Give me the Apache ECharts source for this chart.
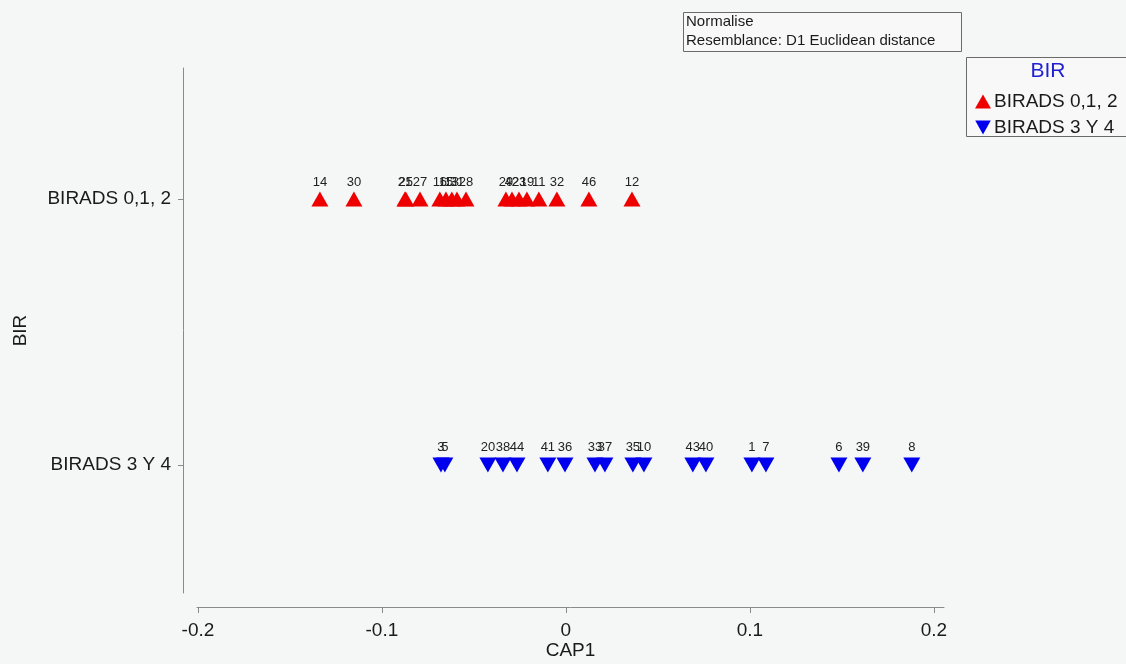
<!DOCTYPE html>
<html>
<head>
<meta charset="utf-8">
<script src="https://cdn.jsdelivr.net/npm/echarts@6/dist/echarts.min.js"></script>
<style>
html,body{margin:0;padding:0;background:#f5f6f6;}
#c{width:1126px;height:664px;}
</style>
</head>
<body>
<div id="c"></div>
<script>
// Categories (y axis, bottom to top)
const categories = ['BIRADS 3 Y 4', 'BIRADS 0,1, 2'];
const xTicks = [-0.2, -0.1, 0, 0.1, 0.2];

// BIRADS 0,1, 2 samples: labels and CAP1 values
const redLabels = ['14','30','21','25','27','16','15','13','31','28','29','42','23','19','11','32','46','12'];
const redCAP1 = [-0.1337,-0.1152,-0.0875,-0.0870,-0.0793,-0.0685,-0.0652,-0.0620,-0.0592,-0.0543,-0.0326,-0.0293,-0.0255,-0.0212,-0.0147,-0.0049,0.0125,0.0359];

// BIRADS 3 Y 4 samples
const blueLabels = ['3','5','20','38','44','41','36','33','37','35','10','43','40','1','7','6','39','8'];
const blueCAP1 = [-0.0679,-0.0658,-0.0424,-0.0342,-0.0266,-0.0098,-0.0005,0.0158,0.0212,0.0364,0.0424,0.0690,0.0761,0.1011,0.1087,0.1484,0.1614,0.1880];

const FONT = 'Liberation Sans, Arial, sans-serif';
const chart = echarts.init(document.getElementById('c'));

const redData = redCAP1.map((v,i)=>({value:[v,1], name:redLabels[i]}));
const blueData = blueCAP1.map((v,i)=>({value:[v,0], name:blueLabels[i]}));

chart.setOption({
  backgroundColor: '#f5f6f6',
  animation: false,
  textStyle: {fontFamily: FONT},
  grid: {left: 197, right: 182, top: 68, bottom: 71, containLabel: false, outerBoundsMode: 'none'},
  xAxis: {
    type: 'value', min: -0.2005, max: 0.2055, offset: 14,
    name: 'CAP1', nameLocation: 'middle', nameGap: 34, nameMoveOverlap: false,
    nameTextStyle: {fontSize: 19, color: '#1a1a1a', fontFamily: FONT},
    axisLine: {show: true, onZero: false, lineStyle: {color: '#8a8a8a', width: 1}},
    axisTick: {show: true, length: 6, lineStyle: {color: '#8a8a8a'}, customValues: xTicks},
    axisLabel: {fontSize: 19, color: '#1a1a1a', margin: 14, customValues: xTicks,
      formatter: v => String(Math.round(v*10)/10)},
    splitLine: {show: false}
  },
  yAxis: {
    type: 'value', min: -0.481, max: 1.4925, offset: 14,
    name: 'BIR', nameLocation: 'middle', nameGap: 153, nameRotate: 90,
    nameTextStyle: {fontSize: 19, color: '#1a1a1a', fontFamily: FONT},
    axisLine: {show: true, onZero: false, lineStyle: {color: '#8a8a8a', width: 1}},
    axisTick: {show: true, length: 5, lineStyle: {color: '#8a8a8a'}, customValues: [0,1]},
    axisLabel: {fontSize: 19, color: '#1a1a1a', margin: 12, customValues: [0,1],
      formatter: v => categories[Math.round(v)]},
    splitLine: {show: false}
  },
  legend: {
    orient: 'vertical', left: 970, top: 87, itemWidth: 16, itemHeight: 14, itemGap: 7,
    textStyle: {fontSize: 19, color: '#1a1a1a', fontFamily: FONT, padding: [0,0,0,-2]},
    data: [
      {name: 'BIRADS 0,1, 2', icon: 'triangle'},
      {name: 'BIRADS 3 Y 4', icon: 'path://M0,0L10,0L5,9Z'}
    ]
  },
  graphic: [
    {type: 'rect', shape: {x: 683.5, y: 12.5, width: 278, height: 39},
      style: {fill: '#f8f8f8', stroke: '#6a6a6a', lineWidth: 1}},
    {type: 'text', x: 686, y: 14, style: {text: 'Normalise', font: '15px ' + FONT, fill: '#1a1a1a'}},
    {type: 'text', x: 686, y: 33, style: {text: 'Resemblance: D1 Euclidean distance', font: '15px ' + FONT, fill: '#1a1a1a'}},
    {type: 'rect', shape: {x: 966.5, y: 57.5, width: 170, height: 79},
      style: {fill: '#f8f8f8', stroke: '#6a6a6a', lineWidth: 1}, z: -1},
    {type: 'text', x: 1048, y: 61, style: {text: 'BIR', font: '21px ' + FONT, fill: '#2020d0', textAlign: 'center'}}
  ],
  series: [
    {
      name: 'BIRADS 0,1, 2', type: 'scatter', data: redData,
      symbol: 'triangle', symbolSize: [17, 15],
      itemStyle: {color: '#ee0000', opacity: 1},
      label: {show: true, position: 'top', distance: 3, formatter: p => p.name,
        fontSize: 13, color: '#222', fontFamily: FONT}
    },
    {
      name: 'BIRADS 3 Y 4', type: 'scatter', data: blueData,
      symbol: 'triangle', symbolRotate: 180, symbolSize: [17, 15],
      itemStyle: {color: '#0000ee', opacity: 1},
      label: {show: true, position: 'top', distance: 4, formatter: p => p.name,
        fontSize: 13, color: '#222', fontFamily: FONT}
    }
  ]
});
</script>
</body>
</html>
